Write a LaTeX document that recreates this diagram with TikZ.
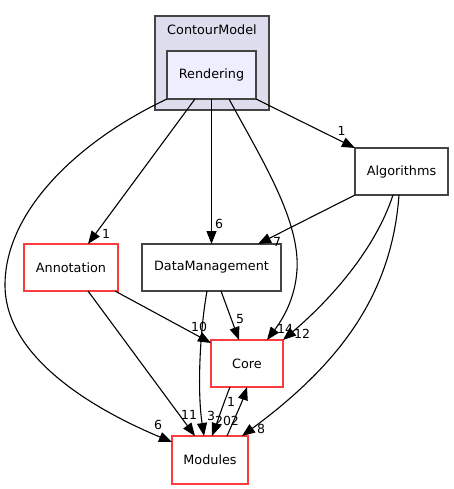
\documentclass[tikz,border=0pt]{standalone}
\usepackage{fontspec}
\setmainfont{DejaVu Sans}
\usetikzlibrary{arrows.meta,calc}
\definecolor{bordergray}{RGB}{68,68,68}
\definecolor{borderred}{RGB}{250,60,60}
\definecolor{clusterfill}{RGB}{221,221,238}
\definecolor{innerfill}{RGB}{238,238,255}
\begin{document}
\begin{tikzpicture}[x=1pt,y=-1pt,
  dirbox/.style={draw=bordergray, line width=1.3pt, fill=white, rectangle, inner sep=0pt, outer sep=0pt, font=\fontsize{12.8}{15}\selectfont},
  redbox/.style={dirbox, draw=borderred},
  edge/.style={draw=black, line width=1.1pt, -{Triangle[length=13pt,width=10pt]}},
  elabel/.style={inner sep=0pt, font=\fontsize{12.5}{14}\selectfont}]
\useasboundingbox (0,0) rectangle (454,489);
% cluster
\draw[draw=bordergray, line width=1.3pt, fill=clusterfill] (155,16) rectangle (269,110);
\node[font=\fontsize{12.8}{15}\selectfont, inner sep=0pt] (clab) at (212,30) {ContourModel};
% nodes
\node[dirbox, fill=innerfill, minimum width=89pt, minimum height=48pt] (rend) at (211.5,75) {Rendering};
\node[dirbox, minimum width=93pt, minimum height=47pt] (alg) at (401.5,171.5) {Algorithms};
\node[redbox, minimum width=94pt, minimum height=47pt] (ann) at (71,267.5) {Annotation};
\node[dirbox, minimum width=139pt, minimum height=47pt] (dm) at (211.5,267.5) {DataManagement};
\node[redbox, minimum width=72pt, minimum height=47pt] (core) at (247,363.5) {Core};
\node[redbox, minimum width=76pt, minimum height=48pt] (mod) at (210,460) {Modules};
% edges from Rendering
\draw[edge] (rend.south east) -- (alg.north west);
\draw[edge] ($(rend.south)+(-16.5,0)$) -- ($(ann.north)+(17,0)$);
\draw[edge] (rend.south) -- (dm.north);
\draw[edge] ($(rend.south)+(17.5,0)$) .. controls (262,160) and (300,220) .. (297,270)
  .. controls (295,300) and (282,320) .. ($(core.north)+(20,0)$);
\draw[edge] (rend.south west) .. controls (80,140) and (5,210) .. (5,285)
  .. controls (5,360) and (100,412) .. ($(mod.north west)+(0,6)$);
% edges from Algorithms
\draw[edge] (alg.south west) -- ($(dm.north)+(46.5,0)$);
\draw[edge] ($(alg.south)+(-8.5,0)$) .. controls (375,250) and (330,300) .. (core.north east);
\draw[edge] ($(alg.south)+(-2.5,0)$) .. controls (392,290) and (345,360) .. ($(mod.north east)+(-6,0)$);
% edges from Annotation
\draw[edge] ($(ann.south east)+(-3,0)$) -- ($(core.north west)+(0,3)$);
\draw[edge] ($(ann.south)+(17,0)$) -- ($(mod.north)+(-15,0)$);
% edges from DataManagement
\draw[edge] ($(dm.south)+(-4.5,0)$) .. controls (200,330) and (197,390) .. ($(mod.north)+(-6,0)$);
\draw[edge] ($(dm.south)+(9.5,0)$) -- ($(core.north)+(-8,0)$);
% Core <-> Modules
\draw[edge] ($(core.south)+(-17,0)$) .. controls (224,402) and (218,420) .. ($(mod.north)+(2,0)$);
\draw[edge] ($(mod.north)+(17,0)$) .. controls (234,420) and (242,402) .. (core.south);
% labels
\node[elabel] (l1) at (341.5,131) {1};
\node[elabel] (l2) at (106,234) {1};
\node[elabel] (l3) at (219,224) {6};
\node[elabel] (l4) at (285,329) {14};
\node[elabel] (l5) at (158,425) {6};
\node[elabel] (l6) at (277,242) {7};
\node[elabel] (l7) at (302,334) {12};
\node[elabel] (l8) at (261,429) {8};
\node[elabel] (l9) at (199,327) {10};
\node[elabel] (l10) at (189,415) {11};
\node[elabel] (l11) at (211,416) {3};
\node[elabel] (l12) at (240,319) {5};
\node[elabel] (l13) at (227,421) {202};
\node[elabel] (l14) at (231,402) {1};
\end{tikzpicture}
\end{document}
